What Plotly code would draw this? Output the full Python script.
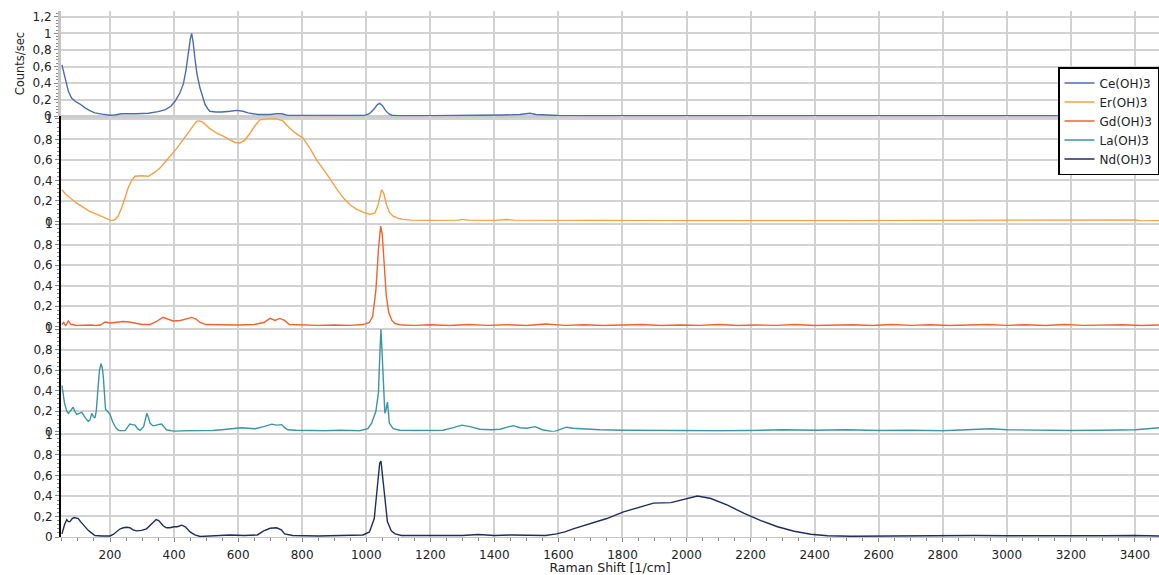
import plotly.graph_objects as go
from plotly.subplots import make_subplots

series_names = ["Ce(OH)3", "Er(OH)3", "Gd(OH)3", "La(OH)3", "Nd(OH)3"]
series_colors = ["#4a6cb0", "#f5a043", "#f2622c", "#3a95a5", "#1f2d5c"]

ce_x = [50, 60, 70, 80, 91, 105, 122, 140, 153, 175, 200, 215, 236, 280, 320, 350, 373, 390, 403, 418, 429, 437,
        445, 451, 455, 460, 465, 472, 481, 490, 497, 505, 512, 530, 549, 575, 596, 615, 631, 662, 700, 720, 736, 755,
        800, 900, 960, 995, 1010, 1025, 1035, 1042, 1050, 1060, 1070, 1080, 1100, 1200, 1250, 1268, 1300, 1355, 1370,
        1427, 1480, 1500, 1511, 1530, 1558, 1600, 1700, 2000, 2500, 3000, 3475]
ce_y = [0.62, 0.45, 0.30, 0.22, 0.18, 0.15, 0.10, 0.06, 0.04, 0.025, 0.012, 0.015, 0.03, 0.03, 0.035, 0.055, 0.08,
        0.12, 0.18, 0.28, 0.39, 0.55, 0.79, 0.94, 1.0, 0.88, 0.70, 0.50, 0.34, 0.21, 0.14, 0.09, 0.06, 0.05, 0.05,
        0.06, 0.07, 0.06, 0.04, 0.02, 0.02, 0.03, 0.03, 0.01, 0.008, 0.006, 0.008, 0.01, 0.03, 0.09, 0.14, 0.155,
        0.13, 0.07, 0.03, 0.012, 0.006, 0.006, 0.006, 0.015, 0.015, 0.015, 0.008, 0.015, 0.02, 0.03, 0.035, 0.02,
        0.015, 0.008, 0.005, 0.005, 0.005, 0.005, 0.005]

er_x = [50, 60, 75, 95, 116, 135, 158, 180, 200, 210, 216, 225, 236, 247, 257, 268, 278, 300, 320, 340, 356, 372,
        387, 408, 429, 450, 470, 480, 490, 510, 533, 555, 574, 590, 605, 620, 637, 652, 668, 690, 720, 740, 751, 775,
        803, 825, 845, 866, 886, 907, 928, 950, 969, 990, 1011, 1027, 1037, 1048, 1055, 1063, 1072, 1084, 1100, 1116,
        1140, 1200, 1290, 1300, 1320, 1400, 1440, 1460, 1600, 2000, 2500, 3000, 3250, 3300, 3400, 3420, 3475]
er_y = [0.31, 0.27, 0.23, 0.18, 0.14, 0.10, 0.07, 0.04, 0.012, 0.01, 0.02, 0.05, 0.13, 0.23, 0.33, 0.40, 0.44,
        0.445, 0.44, 0.48, 0.52, 0.58, 0.635, 0.71, 0.80, 0.89, 0.975, 0.98, 0.965, 0.91, 0.86, 0.83, 0.80, 0.77,
        0.765, 0.79, 0.86, 0.93, 0.99, 1.0, 1.0, 0.98, 0.94, 0.87, 0.81, 0.71, 0.60, 0.51, 0.42, 0.32, 0.23, 0.16,
        0.12, 0.09, 0.07, 0.08, 0.16, 0.31, 0.27, 0.165, 0.09, 0.05, 0.03, 0.02, 0.012, 0.01, 0.012, 0.02, 0.012,
        0.01, 0.018, 0.012, 0.01, 0.008, 0.008, 0.008, 0.01, 0.01, 0.015, 0.005, 0.008]

gd_x = [50, 55, 62, 70, 78, 85, 95, 110, 125, 140, 155, 170, 185, 200, 215, 240, 260, 280, 300, 325, 345, 365, 380,
        397, 420, 440, 455, 470, 481, 500, 550, 600, 650, 680, 700, 715, 730, 745, 760, 800, 850, 900, 950, 990,
        1010, 1020, 1030, 1038, 1045, 1050, 1056, 1062, 1070, 1080, 1090, 1110, 1150, 1200, 1260, 1320, 1380, 1440,
        1500, 1560, 1620, 1680, 1740, 1800, 1860, 1920, 1980, 2040, 2100, 2160, 2220, 2280, 2340, 2400, 2460, 2520,
        2580, 2640, 2700, 2760, 2820, 2880, 2940, 3000, 3060, 3120, 3180, 3240, 3300, 3360, 3420, 3475]
gd_y = [0.02, 0.04, 0.01, 0.055, 0.02, 0.02, 0.01, 0.012, 0.01, 0.015, 0.01, 0.015, 0.045, 0.035, 0.04, 0.05,
        0.045, 0.035, 0.02, 0.02, 0.05, 0.09, 0.07, 0.055, 0.06, 0.08, 0.09, 0.07, 0.04, 0.02, 0.015, 0.015, 0.02,
        0.04, 0.08, 0.06, 0.08, 0.06, 0.02, 0.015, 0.012, 0.015, 0.012, 0.02, 0.04, 0.10, 0.35, 0.75, 0.98, 0.90,
        0.60, 0.32, 0.14, 0.06, 0.03, 0.015, 0.012, 0.018, 0.01, 0.02, 0.012, 0.018, 0.01, 0.025, 0.012, 0.018, 0.01,
        0.015, 0.02, 0.01, 0.016, 0.012, 0.02, 0.01, 0.015, 0.012, 0.02, 0.01, 0.015, 0.018, 0.01, 0.02, 0.012,
        0.018, 0.01, 0.015, 0.02, 0.012, 0.018, 0.01, 0.02, 0.012, 0.015, 0.018, 0.01, 0.015]

la_x = [50, 58, 65, 70, 78, 85, 90, 96, 104, 112, 122, 132, 138, 143, 148, 153, 157, 162, 167, 172, 176, 179, 183,
        186, 192, 200, 208, 216, 224, 231, 247, 255, 262, 270, 278, 286, 294, 305, 315, 320, 325, 333, 340, 350, 361,
        368, 376, 390, 403, 440, 480, 520, 549, 580, 611, 630, 653, 680, 705, 720, 736, 745, 755, 780, 820, 870, 920,
        980, 1005, 1017, 1030, 1038, 1043, 1046, 1049, 1053, 1058, 1062, 1066, 1069, 1072, 1084, 1105, 1150, 1199,
        1240, 1272, 1298, 1324, 1355, 1390, 1418, 1440, 1459, 1480, 1501, 1527, 1550, 1584, 1600, 1625, 1645, 1667,
        1730, 1800, 1900, 2000, 2100, 2200, 2300, 2400, 2500, 2600, 2700, 2800, 2900, 2950, 3000, 3100, 3200, 3300,
        3400, 3440, 3475]
la_y = [0.45, 0.28, 0.20, 0.18, 0.21, 0.24, 0.20, 0.17, 0.18, 0.19, 0.14, 0.10, 0.12, 0.18, 0.15, 0.135, 0.20,
        0.38, 0.60, 0.665, 0.62, 0.54, 0.35, 0.22, 0.20, 0.17, 0.10, 0.05, 0.02, 0.01, 0.012, 0.05, 0.075, 0.07,
        0.065, 0.03, 0.015, 0.05, 0.18, 0.14, 0.085, 0.06, 0.06, 0.07, 0.075, 0.05, 0.02, 0.01, 0.005, 0.01, 0.008,
        0.012, 0.02, 0.03, 0.04, 0.035, 0.03, 0.05, 0.075, 0.065, 0.07, 0.04, 0.02, 0.015, 0.012, 0.01, 0.015, 0.01,
        0.03, 0.085, 0.20, 0.38, 0.80, 1.0, 0.80, 0.54, 0.18, 0.22, 0.29, 0.20, 0.085, 0.03, 0.015, 0.012, 0.01,
        0.015, 0.04, 0.065, 0.05, 0.025, 0.02, 0.025, 0.045, 0.06, 0.04, 0.035, 0.05, 0.02, 0.0, 0.02, 0.045, 0.035,
        0.03, 0.02, 0.015, 0.012, 0.015, 0.01, 0.012, 0.02, 0.015, 0.02, 0.012, 0.015, 0.01, 0.025, 0.03, 0.02,
        0.015, 0.012, 0.015, 0.02, 0.03, 0.04]

nd_x = [50, 58, 65, 70, 75, 82, 88, 95, 101, 108, 117, 125, 132, 142, 153, 175, 200, 210, 221, 232, 242, 252, 262,
        272, 283, 298, 314, 330, 344, 352, 366, 376, 387, 400, 410, 424, 435, 450, 465, 481, 520, 575, 620, 660, 680,
        700, 720, 735, 745, 770, 850, 950, 990, 1010, 1025, 1035, 1042, 1046, 1051, 1058, 1066, 1078, 1090, 1110,
        1200, 1300, 1350, 1400, 1450, 1500, 1560, 1594, 1620, 1646, 1699, 1751, 1803, 1855, 1897, 1951, 1992, 2034,
        2076, 2128, 2180, 2232, 2284, 2336, 2388, 2440, 2513, 2600, 2700, 2800, 2900, 3000, 3100, 3200, 3300, 3400,
        3475]
nd_y = [0.03, 0.12, 0.17, 0.15, 0.15, 0.18, 0.19, 0.185, 0.18, 0.15, 0.115, 0.09, 0.065, 0.04, 0.015, 0.01, 0.01,
        0.025, 0.05, 0.08, 0.09, 0.095, 0.09, 0.07, 0.06, 0.065, 0.08, 0.13, 0.17, 0.16, 0.11, 0.09, 0.09, 0.10,
        0.10, 0.115, 0.10, 0.05, 0.02, 0.005, 0.01, 0.02, 0.015, 0.02, 0.06, 0.085, 0.09, 0.07, 0.03, 0.015, 0.01,
        0.015, 0.02, 0.05, 0.18, 0.50, 0.72, 0.74, 0.60, 0.35, 0.15, 0.06, 0.03, 0.015, 0.012, 0.015, 0.025, 0.015,
        0.02, 0.015, 0.015, 0.03, 0.05, 0.08, 0.13, 0.18, 0.245, 0.29, 0.33, 0.335, 0.365, 0.40, 0.375, 0.31, 0.23,
        0.16, 0.10, 0.056, 0.027, 0.012, 0.008, 0.01, 0.012, 0.01, 0.015, 0.012, 0.01, 0.015, 0.012, 0.015, 0.01]

x_range = [47, 3475]
top_ticks = [0, 0.2, 0.4, 0.6, 0.8, 1.0, 1.2]
lower_ticks = [0, 0.2, 0.4, 0.6, 0.8, 1.0]

data_x = [ce_x, er_x, gd_x, la_x, nd_x]
data_y = [ce_y, er_y, gd_y, la_y, nd_y]

fig = make_subplots(rows=5, cols=1, shared_xaxes=True, vertical_spacing=0)

for i in range(5):
    fig.add_trace(go.Scatter(x=data_x[i], y=data_y[i], mode="lines", name=series_names[i],
                             line=dict(color=series_colors[i], width=1.4)), row=i + 1, col=1)

grid_col = "#d2d2d2"
tick_font = dict(family="DejaVu Sans", size=12, color="#222222")
for i in range(5):
    r = i + 1
    fig.update_xaxes(range=x_range, dtick=200, tick0=0, showgrid=True, gridcolor=grid_col, gridwidth=1.5,
                     zeroline=False, row=r, col=1)
    if r == 1:
        fig.update_yaxes(range=[0, 1.27], tickvals=top_ticks, showline=True, linecolor="#c4c4c4", linewidth=3,
                         zeroline=True, zerolinecolor="#cccccc", zerolinewidth=3,
                         title=dict(text="Counts/sec", standoff=6, font=dict(size=11.5)), row=r, col=1)
    else:
        fig.update_yaxes(range=[0, 1.026], tickvals=lower_ticks, showline=True, linecolor="black", linewidth=2,
                         zeroline=False, row=r, col=1)
    fig.update_yaxes(showgrid=True, gridcolor=grid_col, gridwidth=1.5, ticks="outside", ticklen=4,
                     tickcolor="#888888", tickfont=tick_font,
                     minor=dict(dtick=0.04, tick0=0, ticks="outside", ticklen=2, tickcolor="#888888",
                                showgrid=False),
                     row=r, col=1)

fig.update_xaxes(ticks="outside", ticklen=4, tickcolor="#888888", tickfont=tick_font, ticklabelstandoff=3,
                 minor=dict(dtick=50, ticks="outside", ticklen=3, tickcolor="#888888", showgrid=False),
                 showline=True, linecolor="#c4c4c4", linewidth=1,
                 title=dict(text="Raman Shift [1/cm]", standoff=0, font=dict(size=12.5)), row=5, col=1)

fig.update_layout(
    width=1159, height=575,
    margin=dict(l=61, r=0, t=11, b=38),
    plot_bgcolor="white", paper_bgcolor="white",
    separators=", ",
    font=dict(family="DejaVu Sans", size=11, color="#222222"),
    legend=dict(x=1, xanchor="right", y=0.8935, yanchor="top", bgcolor="white",
                bordercolor="black", borderwidth=1.5, font=dict(size=12), itemwidth=30,
                tracegroupgap=0),
    showlegend=True,
)

fig.write_html("out.html")
